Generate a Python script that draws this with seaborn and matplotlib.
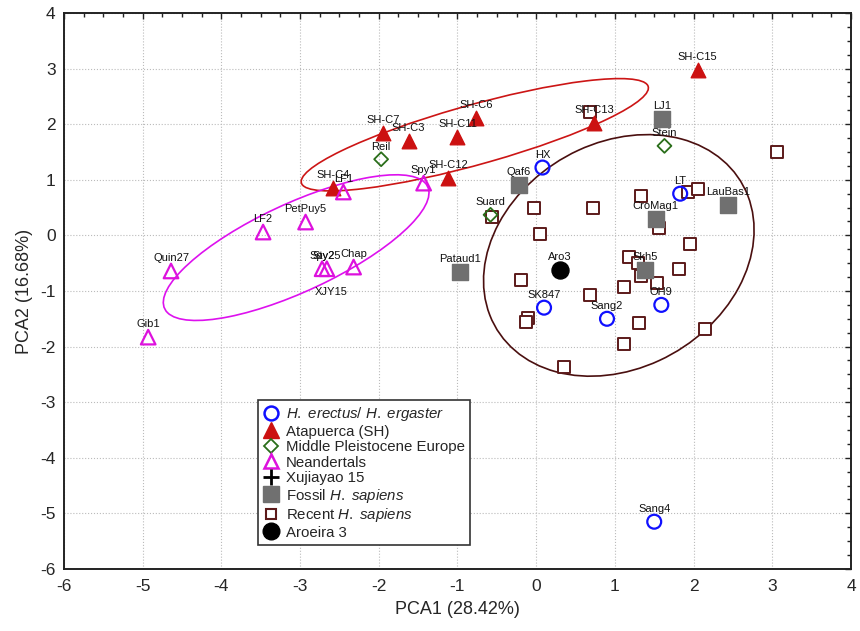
import matplotlib
matplotlib.use("Agg")
import matplotlib.pyplot as plt
from matplotlib.lines import Line2D
from matplotlib.patches import Ellipse
from matplotlib.ticker import MultipleLocator
import seaborn as sns


# H. erectus / H. ergaster
erectus_names = ["HX", "LT", "SK847", "Sang2", "OH9", "Sang4"]
erectus_x = [0.08, 1.83, 0.10, 0.90, 1.59, 1.50]
erectus_y = [1.22, 0.75, -1.30, -1.50, -1.25, -5.15]

# Atapuerca (SH)
sh_names = ["SH-C15", "SH-C7", "SH-C3", "SH-C6", "SH-C11", "SH-C13", "SH-C12", "SH-C4"]
sh_x = [2.05, -1.95, -1.62, -0.76, -1.00, 0.74, -1.12, -2.58]
sh_y = [2.98, 1.85, 1.70, 2.12, 1.77, 2.02, 1.03, 0.85]

# Middle Pleistocene Europe
mpe_names = ["Reil", "Stein", "Suard"]
mpe_x = [-1.97, 1.63, -0.58]
mpe_y = [1.37, 1.61, 0.37]

# Neandertals
nea_names = ["LF1", "Spy1", "PetPuy5", "LF2", "Quin27", "Spy2", "Sty25", "Chap", "Gib1"]
nea_x = [-2.45, -1.43, -2.93, -3.47, -4.64, -2.72, -2.66, -2.32, -4.93]
nea_y = [0.78, 0.94, 0.24, 0.06, -0.64, -0.60, -0.60, -0.57, -1.83]

# Xujiayao 15
xjy_names = ["XJY15"]
xjy_x = [-2.61]
xjy_y = [-1.25]

# Fossil H. sapiens
fossil_names = ["LJ1", "Qaf6", "CroMag1", "LauBas1", "Pataud1", "Skh5"]
fossil_x = [1.60, -0.22, 1.52, 2.44, -0.97, 1.38]
fossil_y = [2.10, 0.91, 0.30, 0.55, -0.65, -0.62]

# Recent H. sapiens (unlabelled)
recent_x = [0.68, 3.06, 1.33, 1.93, 2.06, -0.03, 0.72, -0.56, 1.56, 0.05, 1.95, 1.18, 1.30,
            1.33, 1.81, -0.19, 1.53, 1.12, 0.69, -0.11, -0.13, 0.35, 1.12, 1.31, 2.14]
recent_y = [2.22, 1.50, 0.70, 0.78, 0.83, 0.50, 0.50, 0.33, 0.13, 0.03, -0.15, -0.38, -0.50,
            -0.73, -0.60, -0.80, -0.85, -0.92, -1.07, -1.48, -1.55, -2.37, -1.95, -1.58, -1.68]

# Aroeira 3
aro_names = ["Aro3"]
aro_x = [0.30]
aro_y = [-0.62]


sns.set_style("white")
plt.rcParams["font.family"] = ["Liberation Sans", "DejaVu Sans"]
plt.rcParams["axes.unicode_minus"] = False
plt.rcParams["mathtext.fontset"] = "custom"
plt.rcParams["mathtext.rm"] = "Liberation Sans"
plt.rcParams["mathtext.it"] = "Liberation Sans:italic"

fig, ax = plt.subplots(figsize=(8.6, 6.31), dpi=100)
fig.subplots_adjust(left=0.0744, right=0.9895, bottom=0.0983, top=0.9794)

# group ellipses
ellipses = [
    ((-0.78, 1.81), 2.37, 0.52, 22.0, "#cc1515"),
    ((-3.05, -0.22), 2.01, 0.725, 35.6, "#dd11ee"),
    ((1.05, -0.36), 2.24, 1.63, 69.2, "#4a0f0f"),
]
for center, a, b, ang, col in ellipses:
    ax.add_patch(Ellipse(center, 2 * a, 2 * b, angle=ang, fill=False,
                         edgecolor=col, linewidth=1.2, zorder=2))

# (x, y, marker, size, facecolor, edgecolor, linewidth)
groups = [
    (recent_x, recent_y, "s", 70, "white", "#5c1a1a", 1.4),
    (erectus_x, erectus_y, "o", 100, "none", "#1010ff", 1.6),
    (sh_x, sh_y, "^", 110, "#cc1111", "#cc1111", 1.0),
    (mpe_x, mpe_y, "D", 50, "none", "#2a6e1a", 1.3),
    (nea_x, nea_y, "^", 110, "none", "#dd11dd", 1.6),
    (xjy_x, xjy_y, "+", 130, "none", "black", 1.8),
    (fossil_x, fossil_y, "s", 130, "#707070", "#707070", 1.0),
    (aro_x, aro_y, "o", 150, "black", "black", 1.0),
]
for gx, gy, mk, sz, fc, ec, lw in groups:
    sns.scatterplot(x=gx, y=gy, ax=ax, marker=mk, s=sz, facecolor=fc,
                    edgecolor=ec, linewidth=lw, zorder=3)

# point labels
labelled = [
    (erectus_names, erectus_x, erectus_y),
    (sh_names, sh_x, sh_y),
    (mpe_names, mpe_x, mpe_y),
    (nea_names, nea_x, nea_y),
    (xjy_names, xjy_x, xjy_y),
    (fossil_names, fossil_x, fossil_y),
    (aro_names, aro_x, aro_y),
]
for names, gx, gy in labelled:
    for n, px, py in zip(names, gx, gy):
        ax.annotate(n, (px, py), xytext=(0, 5.5), textcoords="offset points",
                    ha="center", va="bottom", fontsize=8, color="#111111", zorder=4)

ax.set_xlim(-6, 4)
ax.set_ylim(-6, 4)
ax.xaxis.set_major_locator(MultipleLocator(1))
ax.yaxis.set_major_locator(MultipleLocator(1))
ax.xaxis.set_minor_locator(MultipleLocator(0.25))
ax.yaxis.set_minor_locator(MultipleLocator(0.25))
ax.grid(True, which="major", linestyle=":", color="#bbbbbb", linewidth=0.8)
ax.set_axisbelow(True)

ax.tick_params(which="both", direction="in", top=True, right=True,
               color="#222222", width=1.0, labelsize=12.5)
ax.tick_params(which="major", length=4)
ax.tick_params(which="minor", length=3)
ax.tick_params(axis="x", pad=7)
ax.tick_params(axis="y", pad=6)
for sp in ax.spines.values():
    sp.set_color("#222222")
    sp.set_linewidth(1.4)

ax.set_xlabel("PCA1 (28.42%)", fontsize=13, labelpad=5)
ax.set_ylabel("PCA2 (16.68%)", fontsize=13, labelpad=5)

handles = [
    Line2D([], [], ls="none", marker="o", ms=10, mfc="none", mec="#1010ff", mew=1.8),
    Line2D([], [], ls="none", marker="^", ms=11, mfc="#cc1111", mec="#cc1111"),
    Line2D([], [], ls="none", marker="D", ms=7, mfc="none", mec="#2a6e1a", mew=1.3),
    Line2D([], [], ls="none", marker="^", ms=10, mfc="none", mec="#dd11dd", mew=1.8),
    Line2D([], [], ls="none", marker="+", ms=12, mec="black", mew=2),
    Line2D([], [], ls="none", marker="s", ms=11, mfc="#707070", mec="#707070"),
    Line2D([], [], ls="none", marker="s", ms=7, mfc="white", mec="#5c1a1a", mew=1.5),
    Line2D([], [], ls="none", marker="o", ms=12, mfc="black", mec="black"),
]
labels = [
    r"$\mathit{H.\ erectus/\ H.\ ergaster}$",
    "Atapuerca (SH)",
    "Middle Pleistocene Europe",
    "Neandertals",
    "Xujiayao 15",
    r"Fossil $\mathit{H.\ sapiens}$",
    r"Recent $\mathit{H.\ sapiens}$",
    "Aroeira 3",
]
leg = ax.legend(handles, labels, loc="upper left", bbox_to_anchor=(0.2465, 0.304),
                borderaxespad=0, fontsize=10.8, frameon=True, fancybox=False,
                framealpha=1, edgecolor="#333333", labelspacing=0.1,
                handlelength=1.0, handletextpad=0.5, borderpad=0.35)
leg.get_frame().set_linewidth(1.2)

fig.savefig("out.png", dpi=100)
